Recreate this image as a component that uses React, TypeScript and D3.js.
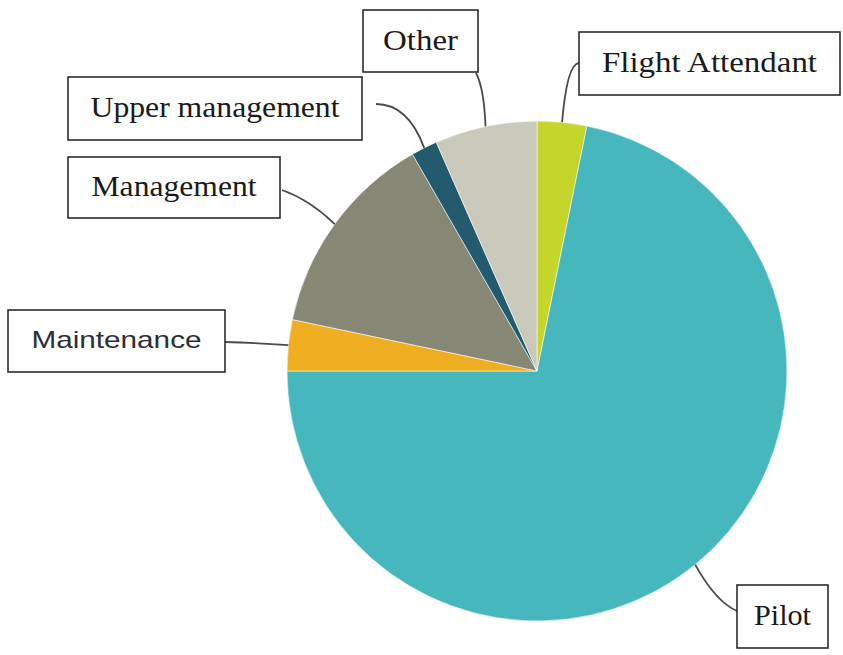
import React from 'react';
import * as d3 from 'd3';

// slices clockwise from 12 o'clock (% of respondents)
const categories = ['Flight Attendant', 'Pilot', 'Maintenance', 'Management', 'Upper management', 'Other'];
const values = [3.2, 71.8, 3.3, 13.4, 1.7, 6.6];
const colors = ['#c6d52b', '#46b8bd', '#efae22', '#878776', '#245a6d', '#cacabc'];

// callout boxes: x, y, w, h, text width, leader start + control point
const boxes = [
  { x: 579, y: 32, w: 261, h: 63, tw: 215, sx: 579, sy: 63, cx: 567, cy: 64, sans: false },
  { x: 737, y: 585, w: 91, h: 63, tw: 57, sx: 737, sy: 611, cx: 716, cy: 602, sans: false },
  { x: 8, y: 310, w: 217, h: 62, tw: 170, sx: 225, sy: 342, cx: 258, cy: 343, sans: true },
  { x: 68, y: 157, w: 212, h: 61, tw: 165, sx: 282, sy: 190, cx: 310, cy: 200, sans: false },
  { x: 68, y: 77, w: 294, h: 63, tw: 249, sx: 376, sy: 104, cx: 408, cy: 104, sans: false },
  { x: 363, y: 10, w: 115, h: 62, tw: 75, sx: 476, sy: 73, cx: 484, cy: 88, sans: false },
];

const W = 843;
const H = 655;
const cx = 537;
const cy = 371;
const r = 250;

export default function App() {
  const pie = d3.pie<number>().sort(null).value(d => d);
  const arcs = pie(values);
  const arc = d3.arc<d3.PieArcDatum<number>>().innerRadius(0).outerRadius(r);

  return (
    <svg width={W} height={H} style={{ position: 'absolute', left: 0, top: 0, background: '#fff' }}>
      <g transform={`translate(${cx},${cy})`}>
        {arcs.map((a, i) => (
          <path key={i} d={arc(a) || ''} fill={colors[i]} stroke="#ffffff" strokeWidth={0.8} strokeOpacity={0.7} />
        ))}
      </g>
      {arcs.map((a, i) => {
        const b = boxes[i];
        const mid = (a.startAngle + a.endAngle) / 2;
        const ex = cx + r * Math.sin(mid);
        const ey = cy - r * Math.cos(mid);
        return (
          <g key={'l' + i}>
            <path d={`M${b.sx},${b.sy}Q${b.cx},${b.cy} ${ex},${ey}`} fill="none" stroke="#4a4a4a" strokeWidth={1.8} />
            <rect x={b.x} y={b.y} width={b.w} height={b.h} fill="#fff" stroke="#2b2b2b" strokeWidth={1.6} />
            <text
              x={b.x + b.w / 2}
              y={b.y + b.h / 2}
              dy="0.3em"
              textAnchor="middle"
              textLength={b.tw}
              lengthAdjust="spacingAndGlyphs"
              fontFamily={b.sans ? 'Liberation Sans, sans-serif' : 'Liberation Serif, serif'}
              fontSize={b.sans ? 24 : 29}
              fill={b.sans ? '#2a2e3a' : '#1a1a1a'}
            >
              {categories[i]}
            </text>
          </g>
        );
      })}
    </svg>
  );
}
